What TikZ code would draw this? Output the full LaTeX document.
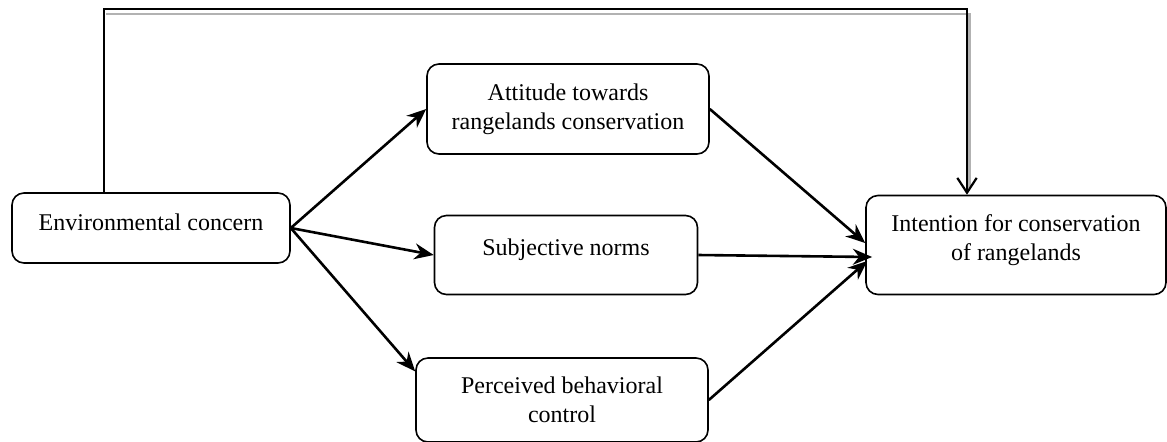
\documentclass[tikz,border=0pt]{standalone}
\usepackage{fontspec}
\setmainfont{Liberation Serif}
\usetikzlibrary{arrows.meta}

\begin{document}
\begin{tikzpicture}[
        x=0.5pt, y=-0.5pt,
        every node/.style={font=\fontsize{12}{14.5}\selectfont},
        construct/.style={draw, line width=0.8pt, rounded corners=6pt, align=center, inner sep=0pt},
        effect/.style={line width=1.3pt, -{Stealth[length=3.4mm, width=2.8mm]}},
        direct/.style={line width=1.3pt, -{Straight Barb[length=2.6mm, width=3.4mm, line width=1.1pt]}}]
    ]
        \useasboundingbox (0,0) rectangle (1167,441);
        \node[construct, minimum width=139pt, minimum height=35pt, text depth=6pt] (EC) at (151,228) {Environmental concern};
        \node[construct, minimum width=141pt, minimum height=45pt] (AT) at (568,109) {Attitude towards\\rangelands conservation};
        \node[construct, minimum width=131.5pt, minimum height=39.5pt, text depth=7.6pt] (SN) at (566,255) {Subjective norms};
        \node[construct, minimum width=146pt, minimum height=42pt] (PBC) at (562,400) {Perceived behavioral\\control};
        \node[construct, minimum width=150pt, minimum height=49.5pt, text depth=7.6pt] (IC) at (1016,245) {Intention for conservation\\of rangelands};
        % direct path over the top
        \coordinate (up) at (104,9);
        \coordinate (down) at (967,9);
        \draw[gray!60, line width=1.3pt, transform canvas={xshift=1.2pt, yshift=-2.4pt}] (up) -- (down) -- ([yshift=6pt]IC.north -| down);
        \draw[direct] (EC.north -| up) -- (up) -- (down) -- (IC.north -| down);
        % paths through the mediators
        \path[effect] (EC.east) edge (AT.west);
        \path[effect] (EC.east) edge (SN.west);
        \path[effect] (EC.east) edge (PBC.169);
        \path[effect] (AT.east) edge ([yshift=1pt]IC.west);
        \path[effect] (SN.east) edge ([xshift=3.5pt, yshift=-6pt]IC.west);
        \path[effect] (PBC.east) edge ([xshift=1pt, yshift=-8pt]IC.west);
    \end{tikzpicture}
\end{document}
